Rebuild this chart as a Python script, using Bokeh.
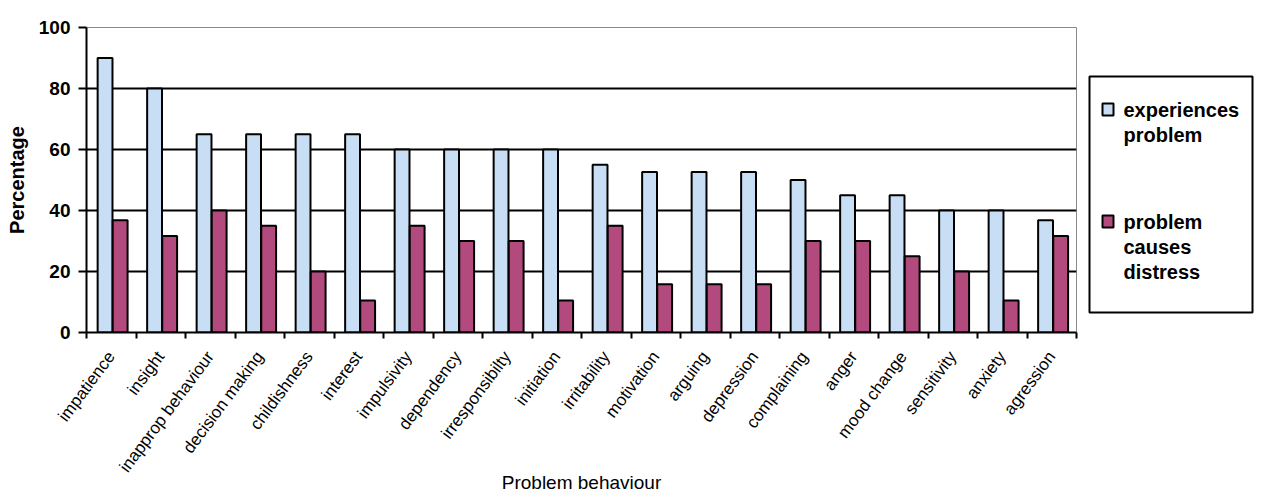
import textwrap

import numpy as np
from bokeh.embed import file_html
from bokeh.layouts import row
from bokeh.models import ColumnDataSource, FixedTicker, Range1d
from bokeh.core.properties import value
from bokeh.plotting import figure
from bokeh.resources import INLINE

# Problem behaviours, in the order shown along the x axis
behaviours = [
    "impatience", "insight", "inapprop behaviour", "decision making",
    "childishness", "interest", "impulsivity", "dependency",
    "irresponsibilty", "initiation", "irritability", "motivation",
    "arguing", "depression", "complaining", "anger", "mood change",
    "sensitivity", "anxiety", "agression",
]

# Percentage of respondents reporting each behaviour as a problem
experiences_problem = [
    90, 80, 65, 65, 65, 65, 60, 60, 60, 60,
    55, 52.6, 52.6, 52.6, 50, 45, 45, 40, 40, 36.8,
]

# Percentage for whom the behaviour causes distress
causes_distress = [
    36.8, 31.6, 40, 35, 20, 10.5, 35, 30, 30, 10.5,
    35, 15.8, 15.8, 15.8, 30, 30, 25, 20, 10.5, 31.6,
]

series_names = ["experiences problem", "problem causes distress"]
series_colors = ["#C8DEF5", "#B24A7E"]

y_ticks = [0, 20, 40, 60, 80, 100]
grid_lines = [20, 40, 60, 80]

x_title = "Problem behaviour"
y_title = "Percentage"

FONT = "Liberation Sans"

n = len(behaviours)
idx = np.arange(n)
centers = idx + 0.5

src = ColumnDataSource(dict(
    name=behaviours,
    x_exp=idx + 0.375,
    x_dis=idx + 0.68,
    exp=experiences_problem,
    dis=causes_distress,
))

H, TOP, BOTTOM = 495, 27, 163
FRAME_H = H - TOP - BOTTOM

p = figure(
    width=1085, height=H,
    x_range=Range1d(0, n), y_range=Range1d(0, 100),
    output_backend="svg", toolbar_location=None,
    min_border_left=86, min_border_right=9,
    min_border_top=TOP, min_border_bottom=BOTTOM,
)
p.background_fill_color = "white"
p.border_fill_color = "white"
p.outline_line_color = "#8a8a8a"
p.outline_line_width = 1

p.vbar(x="x_exp", top="exp", bottom=0, width=0.30, source=src,
       fill_color=series_colors[0], line_color="black", line_width=2)
p.vbar(x="x_dis", top="dis", bottom=0, width=0.30, source=src,
       fill_color=series_colors[1], line_color="black", line_width=2)

# grid
p.xgrid.visible = False
p.ygrid.ticker = FixedTicker(ticks=grid_lines)
p.ygrid.grid_line_color = "black"
p.ygrid.grid_line_width = 2
p.ygrid.level = "underlay"

# y axis
ya = p.yaxis[0]
ya.ticker = FixedTicker(ticks=y_ticks)
ya.axis_label = y_title
ya.axis_label_text_font = FONT
ya.axis_label_text_font_style = "bold"
ya.axis_label_text_font_size = "20px"
ya.axis_label_text_color = "black"
ya.axis_label_standoff = 8
ya.major_label_text_font = FONT
ya.major_label_text_font_style = "bold"
ya.major_label_text_font_size = "19px"
ya.major_label_text_color = "black"
ya.major_label_standoff = 8
ya.axis_line_color = "black"
ya.axis_line_width = 2
ya.major_tick_line_color = "black"
ya.major_tick_line_width = 2
ya.major_tick_in = 0
ya.major_tick_out = 8
ya.minor_tick_line_color = None

# x axis: labels under each category, tick marks between categories
xa = p.xaxis[0]
xa.ticker = FixedTicker(ticks=list(centers), minor_ticks=list(idx) + [n])
xa.major_label_overrides = {float(c): name for c, name in zip(centers, behaviours)}
xa.major_label_orientation = 0.93
xa.major_label_text_font = FONT
xa.major_label_text_font_size = "17px"
xa.major_label_text_color = "black"
xa.major_label_standoff = 15
xa.major_tick_line_color = None
xa.minor_tick_line_color = "black"
xa.minor_tick_line_width = 2
xa.minor_tick_in = 0
xa.minor_tick_out = 6
xa.axis_line_color = "black"
xa.axis_line_width = 2
xa.axis_label = x_title
xa.axis_label_text_font = FONT
xa.axis_label_text_font_style = "normal"
xa.axis_label_text_font_size = "19px"
xa.axis_label_text_color = "black"
xa.axis_label_standoff = -13

# legend panel on the right; same vertical borders as the main figure,
# with the y range expressed in page pixels
LW = 176
leg = figure(
    title=None,
    width=LW, height=H,
    x_range=Range1d(0, LW), y_range=Range1d(TOP + FRAME_H, TOP),
    x_axis_type=None, y_axis_type=None,
    output_backend="svg", toolbar_location=None,
    min_border_left=0, min_border_right=0,
    min_border_top=TOP, min_border_bottom=BOTTOM,
)
leg.outline_line_color = None
leg.grid.visible = False
leg.background_fill_color = "white"
leg.border_fill_color = "white"

leg.quad(left=4, right=167, top=76, bottom=312,
         fill_color="white", line_color="black", line_width=2)

entry_tops = [109, 221]
line_step = 25
sq_x, sq_w, sq_h = 22.5, 11, 12
lx, ly, lt = [], [], []
for name, color, top in zip(series_names, series_colors, entry_tops):
    leg.rect(x=sq_x, y=top, width=sq_w, height=sq_h,
             fill_color=color, line_color="black", line_width=2)
    for k, line in enumerate(textwrap.wrap(name, 11)):
        lx.append(38)
        ly.append(top + k * line_step)
        lt.append(line)

leg.text(x=lx, y=ly, text=lt, text_font=value(FONT), text_font_style="bold",
         text_font_size="20px", text_color="black",
         text_baseline="middle", text_align="left")

layout = row(p, leg, spacing=0)
open("out.html", "w").write(file_html(layout, INLINE))
